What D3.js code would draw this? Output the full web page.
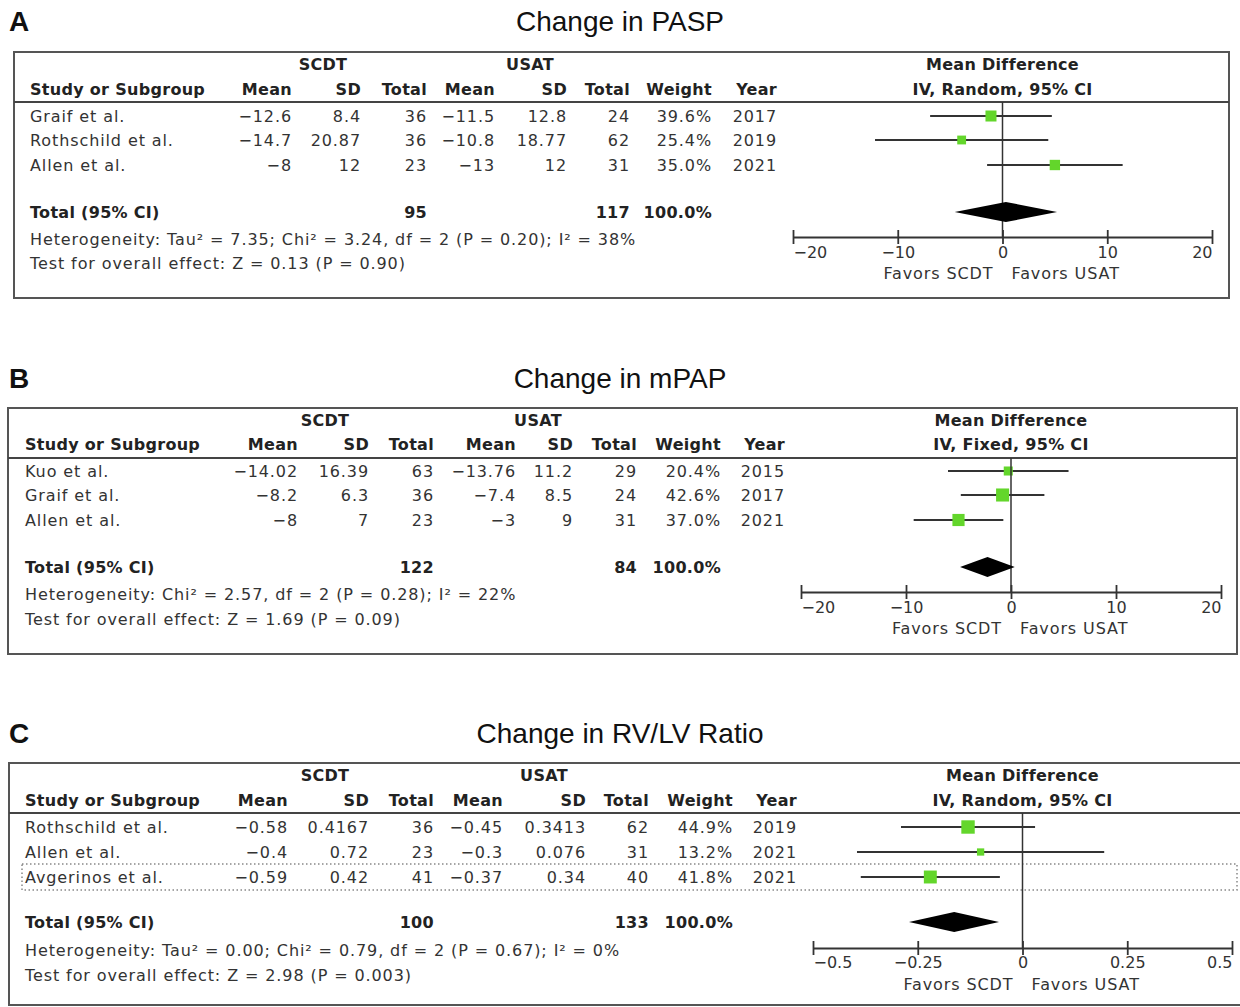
<!DOCTYPE html>
<html>
<head>
<meta charset="utf-8">
<style>
* { margin: 0; padding: 0; }
body { background: #fff; }
svg { display: block; }
.cell { font-family: "DejaVu Sans", sans-serif; font-size: 16px; fill: #333; letter-spacing: 0.9px; }
.head { font-family: "DejaVu Sans", sans-serif; font-size: 16px; font-weight: bold; fill: #222; letter-spacing: 0.3px; }
.title { font-family: "Liberation Sans", Arial, sans-serif; font-size: 28px; fill: #111; }
.letter { font-family: "Liberation Sans", Arial, sans-serif; font-size: 28px; font-weight: bold; fill: #111; }
</style>
</head>
<body>
<script src="https://cdn.jsdelivr.net/npm/d3@7"></script>
<script>

// ---- panel A : Change in PASP ----
var studiesA = [ 'Graif et al.', 'Rothschild et al.', 'Allen et al.' ];
var meanScdtA = [ -12.6, -14.7, -8 ];
var sdScdtA = [ 8.4, 20.87, 12 ];
var nScdtA = [ 36, 36, 23 ];
var meanUsatA = [ -11.5, -10.8, -13 ];
var sdUsatA = [ 12.8, 18.77, 12 ];
var nUsatA = [ 24, 62, 31 ];
var weightA = [ 39.6, 25.4, 35.0 ];
var yearA = [ 2017, 2019, 2021 ];
var mdA = [ -1.1, -3.9, 5 ];
var ciLowA = [ -6.91, -12.17, -1.47 ];
var ciHighA = [ 4.71, 4.37, 11.47 ];
var totalsA = [ 95, 117 ];
var pooledA = [ -4.56, 0.32, 5.21 ];
var hetA = 'Heterogeneity: Tau² = 7.35; Chi² = 3.24, df = 2 (P = 0.20); I² = 38%';
var testA = 'Test for overall effect: Z = 0.13 (P = 0.90)';
var ticksA = [ -20, -10, 0, 10, 20 ];

// ---- panel B : Change in mPAP ----
var studiesB = [ 'Kuo et al.', 'Graif et al.', 'Allen et al.' ];
var meanScdtB = [ -14.02, -8.2, -8 ];
var sdScdtB = [ 16.39, 6.3, 7 ];
var nScdtB = [ 63, 36, 23 ];
var meanUsatB = [ -13.76, -7.4, -3 ];
var sdUsatB = [ 11.2, 8.5, 9 ];
var nUsatB = [ 29, 24, 31 ];
var weightB = [ 20.4, 42.6, 37.0 ];
var yearB = [ 2015, 2017, 2021 ];
var mdB = [ -0.26, -0.8, -5 ];
var ciLowB = [ -6.0, -4.78, -9.27 ];
var ciHighB = [ 5.48, 3.18, -0.73 ];
var totalsB = [ 122, 84 ];
var pooledB = [ -4.85, -2.24, 0.36 ];
var hetB = 'Heterogeneity: Chi² = 2.57, df = 2 (P = 0.28); I² = 22%';
var testB = 'Test for overall effect: Z = 1.69 (P = 0.09)';
var ticksB = [ -20, -10, 0, 10, 20 ];

// ---- panel C : Change in RV/LV Ratio ----
var studiesC = [ 'Rothschild et al.', 'Allen et al.', 'Avgerinos et al.' ];
var meanScdtC = [ -0.58, -0.4, -0.59 ];
var sdScdtC = [ 0.4167, 0.72, 0.42 ];
var nScdtC = [ 36, 23, 41 ];
var meanUsatC = [ -0.45, -0.3, -0.37 ];
var sdUsatC = [ 0.3413, 0.076, 0.34 ];
var nUsatC = [ 62, 31, 40 ];
var weightC = [ 44.9, 13.2, 41.8 ];
var yearC = [ 2019, 2021, 2021 ];
var mdC = [ -0.13, -0.1, -0.22 ];
var ciLowC = [ -0.29, -0.395, -0.386 ];
var ciHighC = [ 0.03, 0.195, -0.054 ];
var totalsC = [ 100, 133 ];
var pooledC = [ -0.271, -0.163, -0.056 ];
var hetC = 'Heterogeneity: Tau² = 0.00; Chi² = 0.79, df = 2 (P = 0.67); I² = 0%';
var testC = 'Test for overall effect: Z = 2.98 (P = 0.003)';
var ticksC = [ -0.5, -0.25, 0, 0.25, 0.5 ];

var colHeads = [ 'Mean', 'SD', 'Total', 'Mean', 'SD', 'Total', 'Weight', 'Year' ];
var green = '#63d62b';

var num = d3.format( '' );
var pct = function ( v ) { return d3.format( '.1f' )( v ) + '%'; };

var svg = d3.select( 'body' ).append( 'svg' )
	.attr( 'width', 1240 )
	.attr( 'height', 1007 );

function drawPanel( d, L ) {

	var g = svg.append( 'g' );

	g.append( 'text' ).attr( 'class', 'letter' )
		.attr( 'x', 9 ).attr( 'y', L.titleY ).attr( 'dominant-baseline', 'central' )
		.text( d.letter );
	g.append( 'text' ).attr( 'class', 'title' )
		.attr( 'x', 620 ).attr( 'y', L.titleY ).attr( 'text-anchor', 'middle' ).attr( 'dominant-baseline', 'central' )
		.text( d.title );

	// frame + header rule
	g.append( 'rect' )
		.attr( 'x', L.box[0] ).attr( 'y', L.box[1] )
		.attr( 'width', L.box[2] - L.box[0] ).attr( 'height', L.box[3] - L.box[1] )
		.style( 'fill', 'none' ).style( 'stroke', '#555' ).style( 'stroke-width', 2 );
	g.append( 'line' )
		.attr( 'x1', L.box[0] ).attr( 'x2', L.box[2] ).attr( 'y1', L.ruleY ).attr( 'y2', L.ruleY )
		.style( 'stroke', '#444' ).style( 'stroke-width', 2 );

	if ( L.highlight != null ) {
		var hy = L.rows[L.highlight];
		g.append( 'rect' )
			.attr( 'x', 22 ).attr( 'y', hy - 13 )
			.attr( 'width', 1237 - 22 ).attr( 'height', 26 )
			.style( 'fill', 'none' ).style( 'stroke', '#888' )
			.style( 'stroke-width', 1.5 ).style( 'stroke-dasharray', '1.5,2.5' );
	}

	// headers
	var gh = [ [ 'SCDT', L.scdtX ], [ 'USAT', L.usatX ], [ 'Mean Difference', 0 ] ];
	g.selectAll( 'text.grp' )
		.data( gh )
		.enter()
		.append( 'text' ).attr( 'class', 'head grp' )
		.attr( 'x', function ( h, i ) { return i === 2 ? L.x( 0 ) : h[1]; } )
		.attr( 'y', L.groupY )
		.attr( 'text-anchor', 'middle' ).attr( 'dominant-baseline', 'central' )
		.text( function ( h ) { return h[0]; } );

	g.append( 'text' ).attr( 'class', 'head' )
		.attr( 'x', L.studyX ).attr( 'y', L.headY ).attr( 'dominant-baseline', 'central' )
		.text( 'Study or Subgroup' );
	g.append( 'text' ).attr( 'class', 'head' )
		.attr( 'x', L.x( 0 ) ).attr( 'y', L.headY )
		.attr( 'text-anchor', 'middle' ).attr( 'dominant-baseline', 'central' )
		.text( d.method );
	g.selectAll( 'text.colh' )
		.data( colHeads )
		.enter()
		.append( 'text' ).attr( 'class', 'head colh' )
		.attr( 'x', function ( h, i ) { return L.cols[i]; } )
		.attr( 'y', L.headY )
		.attr( 'text-anchor', 'end' ).attr( 'dominant-baseline', 'central' )
		.text( function ( h ) { return h; } );

	// study rows
	var rows = d.studies.map( function ( s, i ) {
		return {
			name: s,
			cells: [ num( d.meanS[i] ), num( d.sdS[i] ), d.nS[i], num( d.meanU[i] ), num( d.sdU[i] ), d.nU[i], pct( d.weight[i] ), d.year[i] ],
			md: d.md[i], lo: d.lo[i], hi: d.hi[i], w: d.weight[i], y: L.rows[i]
		};
	} );

	var row = g.selectAll( 'g.row' )
		.data( rows )
		.enter()
		.append( 'g' ).attr( 'class', 'row' );

	row.append( 'text' ).attr( 'class', 'cell' )
		.attr( 'x', L.studyX ).attr( 'y', function ( r ) { return r.y; } )
		.attr( 'dominant-baseline', 'central' )
		.text( function ( r ) { return r.name; } );

	row.selectAll( 'text.v' )
		.data( function ( r ) { return r.cells.map( function ( c ) { return { c: c, y: r.y }; } ); } )
		.enter()
		.append( 'text' ).attr( 'class', 'cell v' )
		.attr( 'x', function ( c, i ) { return L.cols[i]; } )
		.attr( 'y', function ( c ) { return c.y; } )
		.attr( 'text-anchor', 'end' ).attr( 'dominant-baseline', 'central' )
		.text( function ( c ) { return c.c; } );

	// totals
	g.append( 'text' ).attr( 'class', 'head' )
		.attr( 'x', L.studyX ).attr( 'y', L.totalY ).attr( 'dominant-baseline', 'central' )
		.text( 'Total (95% CI)' );
	g.selectAll( 'text.tot' )
		.data( [ [ d.totals[0], L.cols[2] ], [ d.totals[1], L.cols[5] ], [ '100.0%', L.cols[6] ] ] )
		.enter()
		.append( 'text' ).attr( 'class', 'head tot' )
		.attr( 'x', function ( t ) { return t[1]; } ).attr( 'y', L.totalY )
		.attr( 'text-anchor', 'end' ).attr( 'dominant-baseline', 'central' )
		.text( function ( t ) { return t[0]; } );

	g.append( 'text' ).attr( 'class', 'cell' )
		.attr( 'x', L.studyX ).attr( 'y', L.hetY ).attr( 'dominant-baseline', 'central' )
		.text( d.het );
	g.append( 'text' ).attr( 'class', 'cell' )
		.attr( 'x', L.studyX ).attr( 'y', L.testY ).attr( 'dominant-baseline', 'central' )
		.text( d.test );

	// forest plot
	var x = L.x;
	var size = d3.scaleSqrt().domain( [ 0, 100 ] ).range( [ 0, L.k ] );

	g.append( 'line' )
		.attr( 'x1', x( 0 ) ).attr( 'x2', x( 0 ) )
		.attr( 'y1', L.ruleY ).attr( 'y2', L.axisY )
		.style( 'stroke', '#333' ).style( 'stroke-width', 1.5 );

	row.append( 'line' )
		.attr( 'x1', function ( r ) { return x( r.lo ); } )
		.attr( 'x2', function ( r ) { return x( r.hi ); } )
		.attr( 'y1', function ( r ) { return r.y; } )
		.attr( 'y2', function ( r ) { return r.y; } )
		.style( 'stroke', '#333' ).style( 'stroke-width', 1.8 );

	row.append( 'rect' )
		.attr( 'x', function ( r ) { return x( r.md ) - size( r.w ) / 2; } )
		.attr( 'y', function ( r ) { return r.y - size( r.w ) / 2; } )
		.attr( 'width', function ( r ) { return size( r.w ); } )
		.attr( 'height', function ( r ) { return size( r.w ); } )
		.style( 'fill', green );

	var p = d.pooled;
	g.append( 'path' )
		.attr( 'd', 'M' + x( p[0] ) + ',' + L.totalY +
			'L' + x( p[1] ) + ',' + ( L.totalY - 10 ) +
			'L' + x( p[2] ) + ',' + L.totalY +
			'L' + x( p[1] ) + ',' + ( L.totalY + 10 ) + 'Z' )
		.style( 'fill', '#000' );

	var axis = d3.axisBottom( x )
		.tickValues( d.ticks )
		.tickSize( 7 )
		.tickSizeOuter( 0 )
		.tickFormat( num );

	var ax = g.append( 'g' )
		.attr( 'transform', 'translate(0,' + L.axisY + ')' )
		.call( axis );
	ax.select( '.domain' ).style( 'stroke', '#333' ).style( 'stroke-width', 2 );
	ax.selectAll( '.tick line' ).attr( 'y1', -7 ).style( 'stroke', '#333' ).style( 'stroke-width', 1.8 );
	ax.selectAll( '.tick text' )
		.attr( 'y', L.labelY - L.axisY ).attr( 'dy', null )
		.attr( 'dominant-baseline', 'central' )
		.attr( 'text-anchor', function ( t, i ) { return i === 0 ? 'start' : ( i === d.ticks.length - 1 ? 'end' : 'middle' ); } )
		.style( 'font-family', '"DejaVu Sans", sans-serif' )
		.style( 'font-size', '16px' )
		.style( 'fill', '#333' );

	g.append( 'text' ).attr( 'class', 'cell' )
		.attr( 'x', x( 0 ) - 9 ).attr( 'y', L.favorY )
		.attr( 'text-anchor', 'end' ).attr( 'dominant-baseline', 'central' )
		.text( 'Favors SCDT' );
	g.append( 'text' ).attr( 'class', 'cell' )
		.attr( 'x', x( 0 ) + 9 ).attr( 'y', L.favorY )
		.attr( 'dominant-baseline', 'central' )
		.text( 'Favors USAT' );
}

drawPanel( {
	letter: 'A', title: 'Change in PASP', method: 'IV, Random, 95% CI',
	studies: studiesA, meanS: meanScdtA, sdS: sdScdtA, nS: nScdtA,
	meanU: meanUsatA, sdU: sdUsatA, nU: nUsatA, weight: weightA, year: yearA,
	md: mdA, lo: ciLowA, hi: ciHighA, totals: totalsA, pooled: pooledA,
	het: hetA, test: testA, ticks: ticksA
}, {
	titleY: 21, box: [ 14, 52, 1229, 298 ], ruleY: 102,
	groupY: 64, headY: 89, rows: [ 116, 140, 165 ], totalY: 212, hetY: 239, testY: 263,
	studyX: 30, scdtX: 323, usatX: 530,
	cols: [ 292, 361, 427, 495, 567, 630, 712, 777 ],
	x: d3.scaleLinear().domain( [ -20, 20 ] ).range( [ 793, 1212 ] ),
	axisY: 237, labelY: 252, favorY: 273, k: 17.5
} );

drawPanel( {
	letter: 'B', title: 'Change in mPAP', method: 'IV, Fixed, 95% CI',
	studies: studiesB, meanS: meanScdtB, sdS: sdScdtB, nS: nScdtB,
	meanU: meanUsatB, sdU: sdUsatB, nU: nUsatB, weight: weightB, year: yearB,
	md: mdB, lo: ciLowB, hi: ciHighB, totals: totalsB, pooled: pooledB,
	het: hetB, test: testB, ticks: ticksB
}, {
	titleY: 378, box: [ 8, 408, 1237, 654 ], ruleY: 458,
	groupY: 420, headY: 444, rows: [ 471, 495, 520 ], totalY: 567, hetY: 594, testY: 619,
	studyX: 25, scdtX: 325, usatX: 538,
	cols: [ 298, 369, 434, 516, 573, 637, 721, 785 ],
	x: d3.scaleLinear().domain( [ -20, 20 ] ).range( [ 801, 1221 ] ),
	axisY: 592, labelY: 607, favorY: 628, k: 20
} );

drawPanel( {
	letter: 'C', title: 'Change in RV/LV Ratio', method: 'IV, Random, 95% CI',
	studies: studiesC, meanS: meanScdtC, sdS: sdScdtC, nS: nScdtC,
	meanU: meanUsatC, sdU: sdUsatC, nU: nUsatC, weight: weightC, year: yearC,
	md: mdC, lo: ciLowC, hi: ciHighC, totals: totalsC, pooled: pooledC,
	het: hetC, test: testC, ticks: ticksC
}, {
	titleY: 733, box: [ 9, 763, 1252, 1005 ], ruleY: 813,
	groupY: 775, headY: 800, rows: [ 827, 852, 877 ], totalY: 922, hetY: 950, testY: 975,
	studyX: 25, scdtX: 325, usatX: 544,
	cols: [ 288, 369, 434, 503, 586, 649, 733, 797 ],
	x: d3.scaleLinear().domain( [ -0.5, 0.5 ] ).range( [ 813, 1232 ] ),
	axisY: 948, labelY: 962, favorY: 984, k: 20, highlight: 2
} );

</script>
</body>
</html>
